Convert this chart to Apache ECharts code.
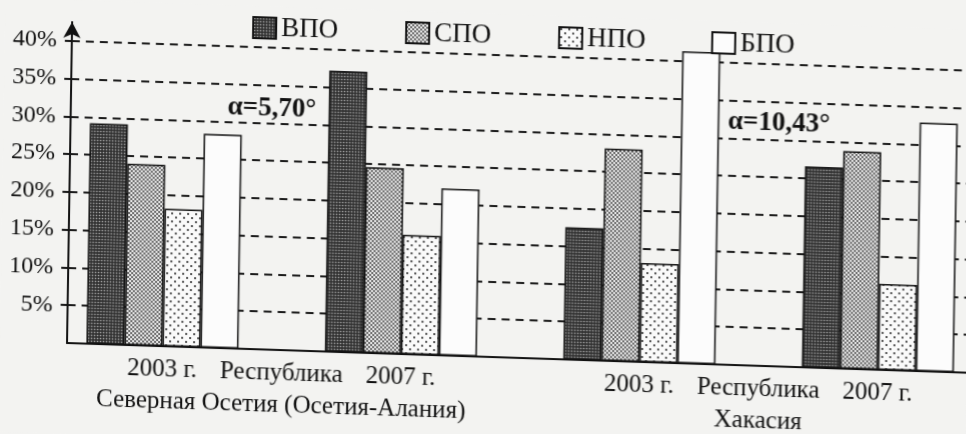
<!DOCTYPE html>
<html>
<head>
<meta charset="utf-8">
<script src="https://cdn.jsdelivr.net/npm/echarts@6/dist/echarts.min.js"></script>
<style>
  html, body { margin: 0; padding: 0; background: #f3f3f1; overflow: hidden; }
  #chart { width: 966px; height: 434px; transform-origin: 67px 343px; transform: matrix(1, 0.033, -0.016, 1, 0, 0); }
</style>
</head>
<body>
<div id="chart"></div>
<script>
// ---- data ----
const categories = ['2003 г.', '2007 г.', '2003 г.', '2007 г.'];
const regions = ['Республика\nСеверная Осетия (Осетия-Алания)', 'Республика\nХакасия'];
const seriesNames = ['ВПО', 'СПО', 'НПО', 'БПО'];
const vpo = [29.2, 37.2, 17.5, 26.6];
const spo = [24.0, 24.6, 28.1, 28.8];
const npo = [18.2, 15.8, 13.1, 11.4];
const bpo = [28.3, 22.1, 41.3, 32.9];
const yTicks = [5, 10, 15, 20, 25, 30, 35, 40];
const annotations = ['α=5,70°', 'α=10,43°'];

const FONT = '"Liberation Serif", "Times New Roman", serif';

function pattern(bg, dotColor, tile, dots, r) {
  const c = document.createElement('canvas');
  c.width = tile; c.height = tile;
  const g = c.getContext('2d');
  g.fillStyle = bg; g.fillRect(0, 0, tile, tile);
  g.fillStyle = dotColor;
  dots.forEach(([x, y]) => { g.beginPath(); g.arc(x, y, r, 0, Math.PI * 2); g.fill(); });
  return { image: c, repeat: 'repeat' };
}
const fills = [
  pattern('#333333', '#b0b0b0', 3, [[1.5, 1.5]], 0.8),
  pattern('#ececec', '#2a2a2a', 4, [[1, 1], [3, 3]], 0.9),
  pattern('#fafafa', '#1a1a1a', 8, [[2, 2], [6, 6]], 1.0),
  '#fcfcfc'
];
const values = [vpo, spo, npo, bpo];

// x positions: category i at i+1, region labels at the midpoints of their two groups
const catPos = categories.map((c, i) => i + 1);
const regionPos = regions.map((r, j) => 2 * j + 1.5);

const chart = echarts.init(document.getElementById('chart'));
const series = seriesNames.map((name, k) => ({
  name,
  type: 'bar',
  xAxisIndex: 0,
  barWidth: 38,
  barGap: '0%',
  clip: false,
  z: 2,
  itemStyle: { color: fills[k], borderColor: '#111', borderWidth: 1.5 },
  data: values[k].map((v, i) => [catPos[i], v])
}));
series[0].markLine = {
  silent: true,
  z: 1,
  symbol: 'none',
  label: { show: false },
  animation: false,
  lineStyle: { color: '#1a1a1a', width: 2, type: [8, 6] },
  data: yTicks.map(v => ({ yAxis: v }))
};

const xLabelStyle = { fontFamily: FONT, fontSize: 25, color: '#111', lineHeight: 32, margin: 7, hideOverlap: false };

chart.setOption({
  backgroundColor: '#f3f3f1',
  animation: false,
  textStyle: { fontFamily: FONT },
  grid: { left: 67, right: 0, top: 22, bottom: 91, containLabel: false },
  legend: {
    left: 242, top: 3,
    itemWidth: 23, itemHeight: 21, itemGap: 62,
    icon: 'rect',
    data: seriesNames,
    textStyle: { fontFamily: FONT, fontSize: 27, color: '#111', width: 62, lineHeight: 26, padding: [0, 0, 0, 0] }
  },
  xAxis: [{
    type: 'value', position: 'bottom',
    min: 0.6, max: 4.37,
    splitLine: { show: false },
    axisTick: { show: false },
    axisLine: { show: true, onZero: false, lineStyle: { color: '#111', width: 2 } },
    axisLabel: Object.assign({
      customValues: catPos,
      formatter: v => categories[catPos.indexOf(v)] || ''
    }, xLabelStyle)
  }, {
    type: 'value', position: 'bottom',
    min: 0.6, max: 4.37,
    splitLine: { show: false },
    axisTick: { show: false },
    axisLine: { show: false, onZero: false },
    axisLabel: Object.assign({
      customValues: regionPos,
      formatter: v => regions[regionPos.indexOf(v)] || ''
    }, xLabelStyle)
  }],
  yAxis: {
    type: 'value',
    min: 0, max: 42.5, interval: 5,
    splitLine: { show: false },
    axisLine: { show: true, symbol: ['none', 'arrow'], symbolSize: [13, 16], lineStyle: { color: '#111', width: 2 } },
    axisTick: { show: true, customValues: yTicks, length: 7, lineStyle: { color: '#111', width: 2 } },
    axisLabel: { customValues: yTicks, formatter: '{value}%', fontFamily: FONT, fontSize: 24, color: '#111', margin: 15 }
  },
  graphic: [
    { type: 'text', x: 268, y: 102, style: { text: annotations[0], font: 'bold 27px ' + FONT, fill: '#111', align: 'center', verticalAlign: 'middle' } },
    { type: 'text', x: 775, y: 100, style: { text: annotations[1], font: 'bold 27px ' + FONT, fill: '#111', align: 'center', verticalAlign: 'middle' } }
  ],
  series
});
</script>
</body>
</html>
